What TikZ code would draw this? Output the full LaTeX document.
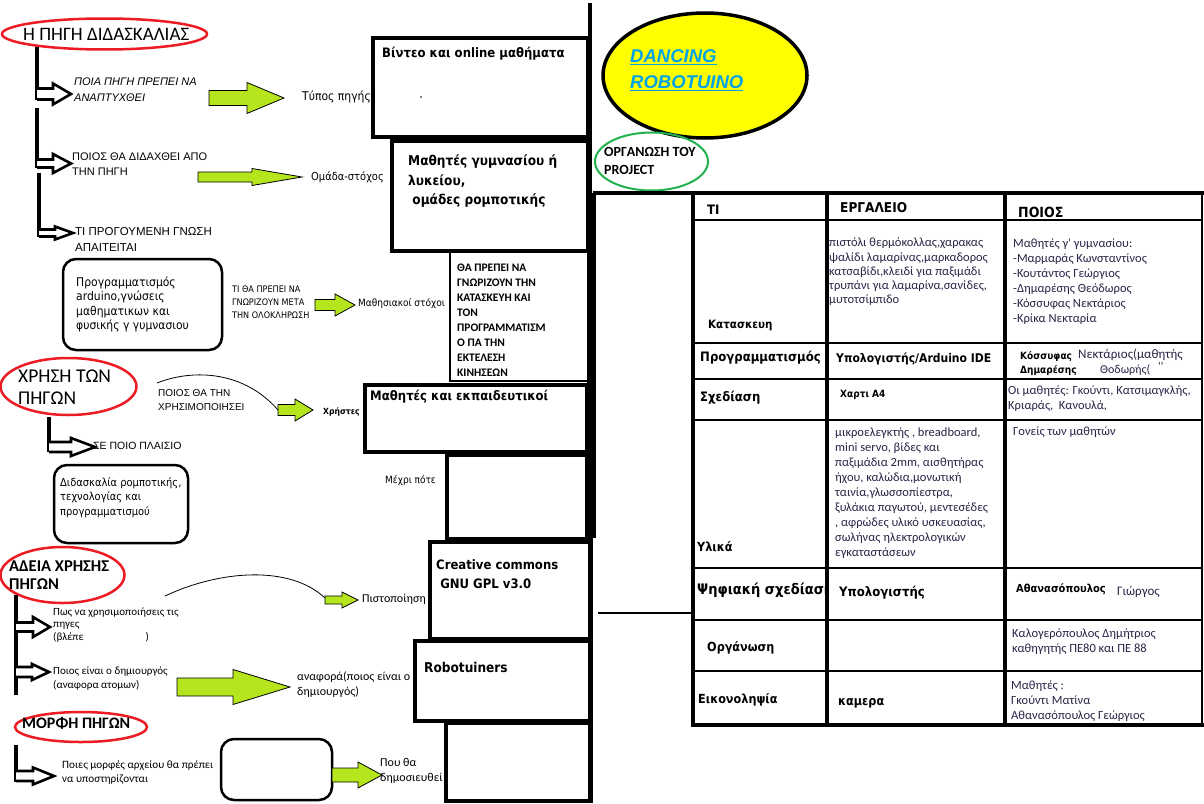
\documentclass[tikz,border=0pt]{standalone}
\usepackage{fontspec}
\setmainfont{Carlito}
\newfontfamily\fcal{Carlito}
\newfontfamily\ftah[FakeStretch=0.9]{DejaVu Sans}
\newfontfamily\fari{Liberation Sans}
\newcommand\sz[2]{\fontsize{#1}{#2}\selectfont}
\definecolor{garfill}{HTML}{B5E61D}
\definecolor{ovalred}{HTML}{ED1C24}
\definecolor{ovalgreen}{HTML}{22B14C}
\definecolor{titleblue}{HTML}{00A2E8}
\definecolor{titleyellow}{HTML}{FFFF00}
\definecolor{ink}{HTML}{262648}
\tikzset{
  framebox/.style={draw=black, line width=3.5pt, fill=white},
  roundbox/.style={draw=black, line width=2.5pt, rounded corners=13pt},
  redoval/.style={draw=ovalred, line width=2.5pt},
  garr/.style={draw=black, line width=0.8pt, fill=garfill, line join=miter},
  harr/.style={draw=black, line width=2.6pt, fill=white, line join=miter},
  stem/.style={line width=4pt},
  thincurve/.style={line width=0.8pt},
  tline/.style={line width=3.5pt},
  rline/.style={line width=1.4pt},
  txt/.style={anchor=west, inner sep=0pt, align=left},
}
\newcommand\harrow[6]{\draw[harr] (#1,#4-#5) -- (#2,#4-#5) -- (#2,#4-#6) -- (#3,#4) -- (#2,#4+#6) -- (#2,#4+#5) -- (#1,#4+#5);}
\newcommand\garrow[6]{\draw[garr] (#1,#4-#5) -- (#2,#4-#5) -- (#2,#4-#6) -- (#3,#4) -- (#2,#4+#6) -- (#2,#4+#5) -- (#1,#4+#5) -- cycle;}
\begin{document}
\begin{tikzpicture}[x=1pt,y=-1pt]
\useasboundingbox (0,0) rectangle (1204,803);
\fill[white] (0,0) rectangle (1204,803);

% ---------------- left column: ovals ----------------
\draw[redoval] (104.5,34) ellipse [x radius=102.5pt, y radius=15.5pt];
\draw[redoval] (68.5,386.5) ellipse [x radius=68pt, y radius=28.5pt];
\draw[redoval] (62.5,575) ellipse [x radius=62pt, y radius=28pt];
\draw[redoval] (81,727) ellipse [x radius=66pt, y radius=15pt];

% stems and hollow arrows
\draw[stem] (37,47) -- (37,99.5);
\harrow{37}{53}{71}{94}{5.5}{10.5}
\draw[stem] (37,108) -- (37,167.5);
\harrow{37}{53}{71}{163.5}{4}{9.5}
\draw[stem] (39,173) -- (39,237);
\harrow{39}{55}{73}{233}{3.5}{6.5}
\draw[stem] (49,417) -- (49,452);
\harrow{49}{71}{95}{447}{5}{9}
\draw[stem] (16,595) -- (16,695);
\harrow{16}{33}{50}{627}{4.5}{10}
\harrow{16}{32}{49}{672}{5}{8}
\draw[stem] (16,745) -- (16,782);
\harrow{16}{33}{54}{776}{5}{8.5}

% rounded boxes
\draw[roundbox] (63,259) rectangle (222,350);
\draw[roundbox] (54,465) rectangle (188,543);
\draw[roundbox] (221,739) rectangle (332,800);

% green arrows
\garrow{209}{247}{284}{98}{7.5}{15.5}
\garrow{198}{252}{302}{177}{5}{8.5}
\garrow{315}{335}{355}{305}{5.5}{11}
\garrow{278}{295}{313}{410}{5.5}{11}
\garrow{325}{342}{358}{600}{4}{8}
\garrow{177}{233}{290}{687}{9}{17.5}
\garrow{332}{358}{382}{775}{7}{13}

% thin curves
\coordinate (c1s) at (157,383);
\coordinate (c1e) at (278,410);
\draw[thincurve] (c1s) .. controls (195,368) and (245,372) .. (c1e);
\coordinate (c2s) at (165,596);
\coordinate (c2e) at (325,598);
\draw[thincurve] (c2s) .. controls (220,570) and (290,565) .. (c2e);

% left texts
\node[txt, font={\fcal\sz{19}{22}}] (t1) at (23,34) {Η ΠΗΓΗ ΔΙΔΑΣΚΑΛΙΑΣ};
\node[txt, font={\fari\itshape\sz{11}{16}}] (t2) at (74,90) {ΠΟΙΑ ΠΗΓΗ ΠΡΕΠΕΙ ΝΑ\\ΑΝΑΠΤΥΧΘΕΙ};
\node[txt, font={\ftah\sz{12}{13}}] (t3) at (302,97) {Τύπος πηγής};
\node[txt, font={\fari\sz{11}{15}}] (t4) at (72,164.5) {ΠΟΙΟΣ ΘΑ ΔΙΔΑΧΘΕΙ ΑΠΟ\\ΤΗΝ ΠΗΓΗ};
\node[txt, font={\ftah\sz{11}{13}}] (t5) at (311,177) {Ομάδα-στόχος};
\node[txt, font={\fari\sz{11.5}{16}}] (t6) at (75,239) {ΤΙ ΠΡΟΓΟΥΜΕΝΗ ΓΝΩΣΗ\\ΑΠΑΙΤΕΙΤΑΙ};
\node[txt, font={\ftah\sz{12}{14.5}}] (t7) at (76,304.5) {Προγραμματισμός\\arduino,γνώσεις\\μαθηματικων και\\φυσικής γ γυμνασιου};
\node[txt, font={\ftah\sz{9}{13}}] (t8) at (232,302) {ΤΙ ΘΑ ΠΡΕΠΕΙ ΝΑ\\ΓΝΩΡΙΖΟΥΝ ΜΕΤΑ\\ΤΗΝ ΟΛΟΚΛΗΡΩΣΗ};
\node[txt, font={\ftah\sz{10}{11}}] (t9) at (358,304) {Μαθησιακοί στόχοι};
\node[txt, font={\fcal\sz{19.5}{22}}] (t10) at (18,387.5) {ΧΡΗΣΗ ΤΩΝ\\ΠΗΓΩΝ};
\node[txt, font={\fari\sz{10}{14}}] (t11) at (158,400) {ΠΟΙΟΣ ΘΑ ΤΗΝ\\ΧΡΗΣΙΜΟΠΟΙΗΣΕΙ};
\node[txt, font={\ftah\bfseries\sz{8.5}{10}}] (t12) at (323,412) {Χρήστες};
\node[txt, font={\fari\sz{10.5}{12}}] (t13) at (93,446) {ΣΕ ΠΟΙΟ ΠΛΑΙΣΙΟ};
\node[txt, font={\ftah\sz{11}{14.5}}] (t14) at (60,497.5) {Διδασκαλία ρομποτικής,\\τεχνολογίας και\\προγραμματισμού};
\node[txt, font={\ftah\sz{10}{10}}] (t15) at (385,481) {Μέχρι πότε};
\node[txt, font={\fcal\bfseries\sz{16.5}{18}}] (t16) at (9,575) {ΑΔΕΙΑ ΧΡΗΣΗΣ\\ΠΗΓΩΝ};
\node[txt, font={\fcal\sz{11}{12.5}}] (t17) at (53,625) {Πως να χρησιμοποιήσεις τις\\πηγες\\(βλέπε\hspace{62pt})};
\node[txt, font={\fcal\sz{11}{14}}] (t18) at (53,679) {Ποιος είναι ο δημιουργός\\(αναφορα ατομων)};
\node[txt, font={\fcal\sz{12}{14}}] (t19) at (362,599) {Πιστοποίηση};
\node[txt, font={\fcal\sz{12}{15}}] (t20) at (297,684.5) {αναφορά(ποιος είναι ο\\δημιουργός)};
\node[txt, font={\fcal\bfseries\sz{16}{18}}] (t21) at (22,723) {ΜΟΡΦΗ ΠΗΓΩΝ};
\node[txt, font={\fcal\sz{11.2}{14}}] (t22) at (62,772) {Ποιες μορφές αρχείου θα πρέπει\\να υποστηρίζονται};
\node[txt, font={\fcal\sz{12}{15}}] (t23) at (380,770.5) {Που θα\\δημοσιευθεί};

% ---------------- middle boxes ----------------
\draw[framebox] (373,38) rectangle (588,137);
\draw[framebox] (392,141) rectangle (588,251);
\draw[framebox, line width=2.5pt] (450,252) rectangle (588,381);
\draw[framebox] (365,385) rectangle (587,452);
\draw[framebox] (447,455) rectangle (587,539);
\draw[framebox] (430,542) rectangle (590,639);
\draw[framebox] (415,641) rectangle (590,721);
\draw[framebox] (446,723) rectangle (590,801);
\fill (421,97) circle [radius=0.8pt];

\node[txt, font={\ftah\bfseries\sz{13}{14}}] (m1) at (382,54) {Βίντεο και online μαθήματα};
\node[txt, font={\ftah\bfseries\sz{13.5}{19.5}}] (m2) at (408,181.5) {Μαθητές γυμνασίου ή\\λυκείου,\\\ ομάδες ρομποτικής};
\node[txt, font={\fcal\bfseries\sz{11.5}{15}}] (m3) at (457,320.5) {ΘΑ ΠΡΕΠΕΙ ΝΑ\\ΓΝΩΡΙΖΟΥΝ ΤΗΝ\\ΚΑΤΑΣΚΕΥΗ ΚΑΙ\\ΤΟΝ\\ΠΡΟΓΡΑΜΜΑΤΙΣΜ\\Ο ΠΑ ΤΗΝ\\ΕΚΤΕΛΕΣΗ\\ΚΙΝΗΣΕΩΝ};
\node[txt, font={\ftah\bfseries\sz{13}{14}}] (m4) at (370,397) {Μαθητές και εκπαιδευτικοί};
\node[txt, font={\ftah\bfseries\sz{13}{18.5}}] (m5) at (436,574) {Creative commons\\\ GNU GPL v3.0};
\node[txt, font={\ftah\bfseries\sz{13.5}{15}}] (m6) at (424,667) {Robotuiners};

% divider
\draw[line width=4pt] (590,3) -- (590,193);
\draw[line width=9pt] (591.5,193) -- (591.5,538);
\draw[line width=4pt] (591,538) -- (591,803);

% ---------------- top right ----------------
\draw[line width=3.5pt, fill=titleyellow] (705,75.5) ellipse [x radius=102pt, y radius=62.5pt];
\node[txt, text=titleblue, font={\fari\bfseries\itshape\sz{18.5}{26}}] (d1) at (630,70) {\underline{DANCING}\\\underline{ROBOTUINO}};
\draw[draw=ovalgreen, line width=2pt] (651.5,161.5) ellipse [x radius=56.5pt, y radius=29pt];
\node[txt, font={\fcal\bfseries\sz{14}{18}}] (o1) at (604,161) {ΟΡΓΑΝΩΣΗ ΤΟΥ\\PROJECT};

% ---------------- table ----------------
\draw[tline] (593,193) -- (1204,193);
\foreach \yy in {220,343,379,420,568,620,671} {\draw[rline] (693,\yy) -- (1202,\yy);}
\draw[line width=2pt] (598,613) -- (691,613);

\node[txt, font={\ftah\bfseries\sz{13}{15}}] (h1) at (707,210) {ΤΙ};
\node[txt, font={\ftah\bfseries\sz{13.5}{15}}] (h2) at (840,208) {ΕΡΓΑΛΕΙΟ};
\node[txt, font={\ftah\bfseries\sz{14}{15}}] (h3) at (1018,212) {ΠΟΙΟΣ};

\node[txt, font={\ftah\bfseries\sz{11.5}{14}}] (r1) at (708,325) {Κατασκευη};
\node[txt, text=ink, font={\fcal\sz{12.5}{14.2}}] (r1b) at (829,272) {πιστόλι θερμόκολλας,χαρακας\\ψαλίδι λαμαρίνας,μαρκαδορος\\κατσαβίδι,κλειδί για παξιμάδι\\τρυπάνι για λαμαρίνα,σανίδες,\\μυτοτσίμπιδο};
\node[txt, text=ink, font={\fcal\sz{12.5}{15}}] (r1c) at (1013,281.5) {Μαθητές γ' γυμνασίου:\\-Μαρμαράς Κωνσταντίνος\\-Κουτάντος Γεώργιος\\-Δημαρέσης Θεόδωρος\\-Κόσσυφας Νεκτάριος\\-Κρίκα Νεκταρία};

\node[txt, font={\ftah\bfseries\sz{13}{14}}] (r2) at (700,358) {Προγραμματισμός};
\node[txt, font={\ftah\bfseries\sz{12}{14}}] (r2b) at (836,359) {Υπολογιστής/Arduino IDE};
\node[txt, font={\ftah\bfseries\sz{10}{14}}] (r2c) at (1020,364) {Κόσσυφας\\Δημαρέσης};
\node[txt, text=ink, font={\fcal\sz{13}{15}}] (r2d) at (1078,355) {Νεκτάριος(μαθητής};
\node[txt, text=ink, font={\fcal\sz{12}{15}}] (r2e) at (1100,370) {Θοδωρής(};
\node[txt, text=ink, font={\fcal\sz{12}{15}}] (r2f) at (1158,366) {{'}{'}};

\node[txt, font={\ftah\bfseries\sz{13}{14}}] (r3) at (700,398) {Σχεδίαση};
\node[txt, font={\ftah\bfseries\sz{10}{14}}] (r3b) at (840,395) {Χαρτι Α4};
\node[txt, text=ink, font={\fcal\sz{12.5}{15}}] (r3c) at (1008,398.5) {Οι μαθητές: Γκούντι, Κατσιμαγκλής,\\Κριαράς,\ \ Κανουλά,};

\node[txt, font={\ftah\bfseries\sz{12.5}{14}}] (r4) at (697,547) {Υλικά};
\node[txt, text=ink, font={\fcal\sz{12.5}{15}}] (r4b) at (835,493) {μικροελεγκτής , breadboard,\\mini servo, βίδες και\\παξιμάδια 2mm, αισθητήρας\\ήχου, καλώδια,μονωτική\\ταινία,γλωσσοπίεστρα,\\ξυλάκια παγωτού, μεντεσέδες\\, αφρώδες υλικό υσκευασίας,\\σωλήνας ηλεκτρολογικών\\εγκαταστάσεων};
\node[txt, text=ink, font={\fcal\sz{12.5}{15}}] (r4c) at (1013,432) {Γονείς των μαθητών};

\node[txt, font={\ftah\bfseries\sz{14.5}{14}}] (r5) at (697,590) {Ψηφιακή σχεδίαση};
\fill[white] (829,575) rectangle (860,612);
\node[txt, font={\ftah\bfseries\sz{13}{15}}] (r5b) at (839,593) {Υπολογιστής};
\node[txt, font={\ftah\bfseries\sz{11}{14}}] (r5c) at (1016,589) {Αθανασόπουλος};
\node[txt, text=ink, font={\fcal\sz{13}{15}}] (r5d) at (1117,592) {Γιώργος};

\node[txt, font={\ftah\bfseries\sz{12.5}{14}}] (r6) at (707,648) {Οργάνωση};
\node[txt, text=ink, font={\fcal\sz{12.5}{15}}] (r6c) at (1012,641.5) {Καλογερόπουλος Δημήτριος\\καθηγητής ΠΕ80 και ΠΕ 88};

\node[txt, font={\ftah\bfseries\sz{12.5}{14}}] (r7) at (698,700) {Εικονοληψία};
\node[txt, font={\ftah\bfseries\sz{12.5}{14}}] (r7b) at (838,703) {καμερα};
\node[txt, text=ink, font={\fcal\sz{12.5}{15}}] (r7c) at (1011,701) {Μαθητές :\\Γκούντι Ματίνα\\Αθανασόπουλος Γεώργιος};

% table column rules drawn last
\draw[tline] (693,193) -- (693,726);
\draw[tline] (827,193) -- (827,726);
\draw[tline] (1005,193) -- (1005,726);
\draw[line width=2.5pt] (1202,193) -- (1202,726);
\draw[tline] (691,725) -- (1204,725);
\end{tikzpicture}
\end{document}
